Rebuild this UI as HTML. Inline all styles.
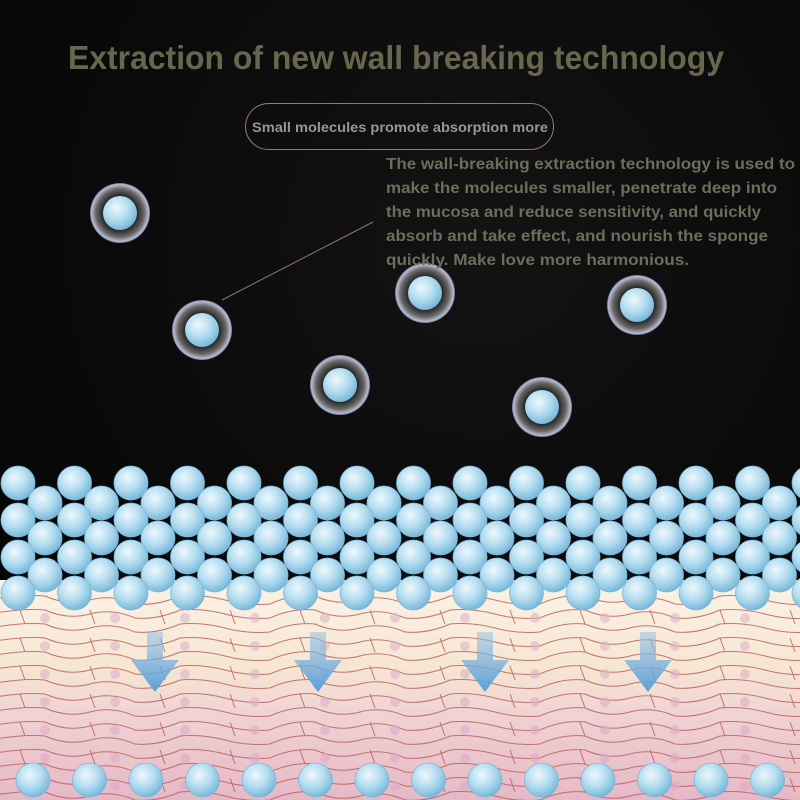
<!DOCTYPE html>
<html><head><meta charset="utf-8"><style>
html,body{margin:0;padding:0;background:#000;}
svg{display:block}
text{font-family:"Liberation Sans",sans-serif;font-weight:bold}
</style></head><body>
<svg id="s" width="800" height="800" viewBox="0 0 800 800" xmlns="http://www.w3.org/2000/svg">
<defs>
<radialGradient id="bg" cx="0.6" cy="0.3" r="0.9"><stop offset="0" stop-color="#141212"/><stop offset="1" stop-color="#030303"/></radialGradient>
<radialGradient id="bub" cx="0.4" cy="0.35" r="0.7"><stop offset="0" stop-color="#eef8fc"/><stop offset="0.5" stop-color="#b4ddf0"/><stop offset="0.9" stop-color="#7dbcdc"/><stop offset="1" stop-color="#65a8cc"/></radialGradient>
<radialGradient id="ring" cx="0.5" cy="0.5" r="0.5"><stop offset="0.55" stop-color="#222"/><stop offset="0.8" stop-color="#666"/><stop offset="0.95" stop-color="#bbc"/><stop offset="1" stop-color="#6070a0"/></radialGradient>
<linearGradient id="skin" x1="0" y1="0" x2="0" y2="1"><stop offset="0" stop-color="#fbf3e6"/><stop offset="0.4" stop-color="#f6e6d2"/><stop offset="0.62" stop-color="#f0d2d2"/><stop offset="1" stop-color="#e6b8c6"/></linearGradient>
<linearGradient id="arr" x1="0" y1="0" x2="0" y2="1"><stop offset="0" stop-color="#8fc0e6" stop-opacity="0.5"/><stop offset="1" stop-color="#5a9fd8"/></linearGradient>
</defs>
<rect width="800" height="800" fill="url(#bg)"/>
<rect y="580" width="800" height="220" fill="url(#skin)"/>
<g id="cells" stroke="#b25a5a" stroke-width="1" fill="none" opacity="0.8"></g>
<g id="arrows"></g>
<g id="bubs"></g>
<line x1="222" y1="300" x2="373" y2="222" stroke="#8a7a6a" stroke-width="1"/>
<g id="mols"></g>
<text x="396" y="69" text-anchor="middle" font-size="33" fill="#67664f" textLength="656" lengthAdjust="spacingAndGlyphs">Extraction of new wall breaking technology</text>
<rect x="245.5" y="103.5" width="308" height="46" rx="23" fill="none" stroke="#8c7c72" stroke-width="1"/>
<text x="400" y="132" text-anchor="middle" font-size="14" fill="#9a988a" textLength="296" lengthAdjust="spacingAndGlyphs">Small molecules promote absorption more</text>
<g font-size="15.5" fill="#6e6d5c">
<text x="386" y="169" textLength="409" lengthAdjust="spacingAndGlyphs">The wall-breaking extraction technology is used to</text>
<text x="386" y="193" textLength="391" lengthAdjust="spacingAndGlyphs">make the molecules smaller, penetrate deep into</text>
<text x="386" y="217" textLength="375" lengthAdjust="spacingAndGlyphs">the mucosa and reduce sensitivity, and quickly</text>
<text x="386" y="241" textLength="382" lengthAdjust="spacingAndGlyphs">absorb and take effect, and nourish the sponge</text>
<text x="386" y="265" textLength="303" lengthAdjust="spacingAndGlyphs">quickly. Make love more harmonious.</text>
</g>
</svg>
<script>
var NS="http://www.w3.org/2000/svg";
function el(p,t,a){var e=document.createElementNS(NS,t);for(var k in a)e.setAttribute(k,a[k]);document.getElementById(p).appendChild(e);return e;}
for(var y=600;y<800;y+=14){var d="M-10 "+y;for(var x=0;x<=820;x+=45){d+=" Q"+(x+22)+" "+(y+(x%90?6:-6))+" "+(x+45)+" "+(y+((x/45)%3-1)*4);}el("cells","path",{d:d});}
for(var y=610;y<800;y+=28)for(var x=(y%56?20:45);x<800;x+=70){el("cells","line",{x1:x,y1:y,x2:x+5,y2:y+14});el("cells","circle",{cx:x+25,cy:y+8,r:5,fill:"#d9a6c4",stroke:"none",opacity:0.6});}
[155,318,485,648].forEach(function(x){el("arrows","path",{d:"M"+(x-8)+" 632 h16 v28 h16 l-24 32 l-24 -32 h16z",fill:"url(#arr)"});});
var rows=[[483,0],[503,1],[520,0],[538,1],[557,0],[575,1],[593,0]];
rows.forEach(function(r){var x0=r[1]?45:18;for(var x=x0;x<830;x+=56.5){el("bubs","circle",{cx:x,cy:r[0],r:17,fill:"url(#bub)",stroke:"#7fb6d6","stroke-width":0.8});}});
for(var x=33;x<830;x+=56.5)el("bubs","circle",{cx:x,cy:780,r:17,fill:"url(#bub)",stroke:"#7fb6d6","stroke-width":0.8});
[[120,213],[202,330],[425,293],[637,305],[340,385],[542,407]].forEach(function(m){el("mols","circle",{cx:m[0],cy:m[1],r:30,fill:"url(#ring)"});el("mols","circle",{cx:m[0],cy:m[1],r:17,fill:"url(#bub)"});});
</script>
</body></html>
